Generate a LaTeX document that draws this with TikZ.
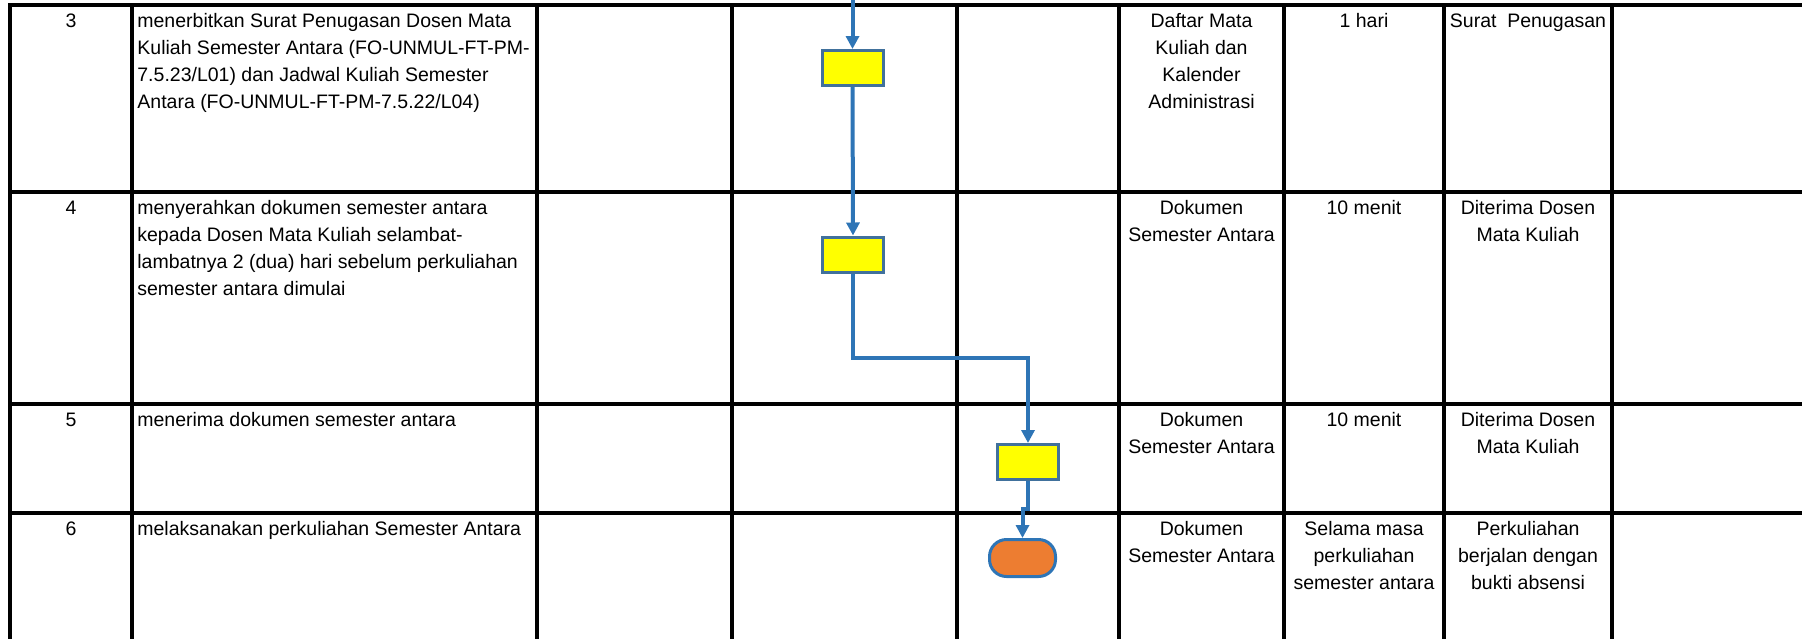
\documentclass[tikz,border=0pt]{standalone}
\usepackage{fontspec}
\setmainfont{Liberation Sans}
\usetikzlibrary{arrows.meta}
\definecolor{flowblue}{HTML}{2E75B6}
\definecolor{boxedge}{HTML}{41719C}
\definecolor{procfill}{HTML}{FFFF00}
\definecolor{termfill}{HTML}{ED7D31}
\begin{document}
\begin{tikzpicture}[x=0.5pt,y=-0.5pt,
  gridline/.style={line width=1.75pt, black, line cap=rect},
  cell/.style={font=\fontsize{9.75pt}{13.5pt}\selectfont, inner sep=0pt},
  desc/.style={cell, anchor=north west, align=left},
  mid/.style={cell, anchor=north, align=center},
  proc/.style={draw=boxedge, fill=procfill, line width=1.5pt, inner sep=0pt,
    minimum width=30.5pt, minimum height=17.5pt},
  term/.style={draw=flowblue, fill=termfill, line width=1.5pt, inner sep=0pt,
    rounded corners=8.5pt, minimum width=33pt, minimum height=18.5pt},
  flow/.style={draw=flowblue, line width=2pt,
    -{Triangle[length=6.5pt,width=6.5pt]}}]
\useasboundingbox (0,0) rectangle (1802,638);

% table grid
\foreach \yy in {5,192,404,513}
  \draw[gridline] (10,\yy) -- (1806,\yy);
\foreach \xx in {10,132,537,732,957,1119,1284,1444,1612}
  \draw[gridline] (\xx,5) -- (\xx,642);

% row 3 (each text opens with a strut, so its top lies one strut above the first baseline)
\node[mid]  (n3)   at (71,8.1)   {\strut 3};
\node[desc] (d3)   at (137,8.1)  {\strut menerbitkan Surat Penugasan Dosen Mata\\Kuliah Semester Antara (FO-UNMUL-FT-PM-\\7.5.23/L01) dan Jadwal Kuliah Semester\\Antara (FO-UNMUL-FT-PM-7.5.22/L04)};
\node[mid]  (doc3) at (1201.5,8.1) {\strut Daftar Mata\\Kuliah dan\\Kalender\\Administrasi};
\node[mid]  (t3)   at (1364,8.1) {\strut 1 hari};
\node[mid]  (o3)   at (1528,8.1) {\strut Surat\ \ Penugasan};

% row 4
\node[mid]  (n4)   at (71,195.1)  {\strut 4};
\node[desc] (d4)   at (137,195.1) {\strut menyerahkan dokumen semester antara\\kepada Dosen Mata Kuliah selambat-\\lambatnya 2 (dua) hari sebelum perkuliahan\\semester antara dimulai};
\node[mid]  (doc4) at (1201.5,195.1) {\strut Dokumen\\Semester Antara};
\node[mid]  (t4)   at (1364,195.1) {\strut 10 menit};
\node[mid]  (o4)   at (1528,195.1) {\strut Diterima Dosen\\Mata Kuliah};

% row 5
\node[mid]  (n5)   at (71,407.1)  {\strut 5};
\node[desc] (d5)   at (137,407.1) {\strut menerima dokumen semester antara};
\node[mid]  (doc5) at (1201.5,407.1) {\strut Dokumen\\Semester Antara};
\node[mid]  (t5)   at (1364,407.1) {\strut 10 menit};
\node[mid]  (o5)   at (1528,407.1) {\strut Diterima Dosen\\Mata Kuliah};

% row 6
\node[mid]  (n6)   at (71,516.1)  {\strut 6};
\node[desc] (d6)   at (137,516.1) {\strut melaksanakan perkuliahan Semester Antara};
\node[mid]  (doc6) at (1201.5,516.1) {\strut Dokumen\\Semester Antara};
\node[mid]  (t6)   at (1364,516.1) {\strut Selama masa\\perkuliahan\\semester antara};
\node[mid]  (o6)   at (1528,516.1) {\strut Perkuliahan\\berjalan dengan\\bukti absensi};

% flowchart symbols
\node[proc] (p1) at (852.5,68)  {};
\node[proc] (p2) at (853,254.5) {};
\node[proc] (p3) at (1028,462)  {};
\node[term] (end) at (1022.5,558) {};

% connectors
\coordinate (in) at (852.5,0);
\draw[flow] (in) -- (p1.north);
\draw[flow] (p1.south) -- (p2.north);
\draw[flow] (p2.south) |- (1028,358) -- (p3.north);
\draw[flow] (p3.south) -- (1028,509) -| (end.north);
\end{tikzpicture}
\end{document}
